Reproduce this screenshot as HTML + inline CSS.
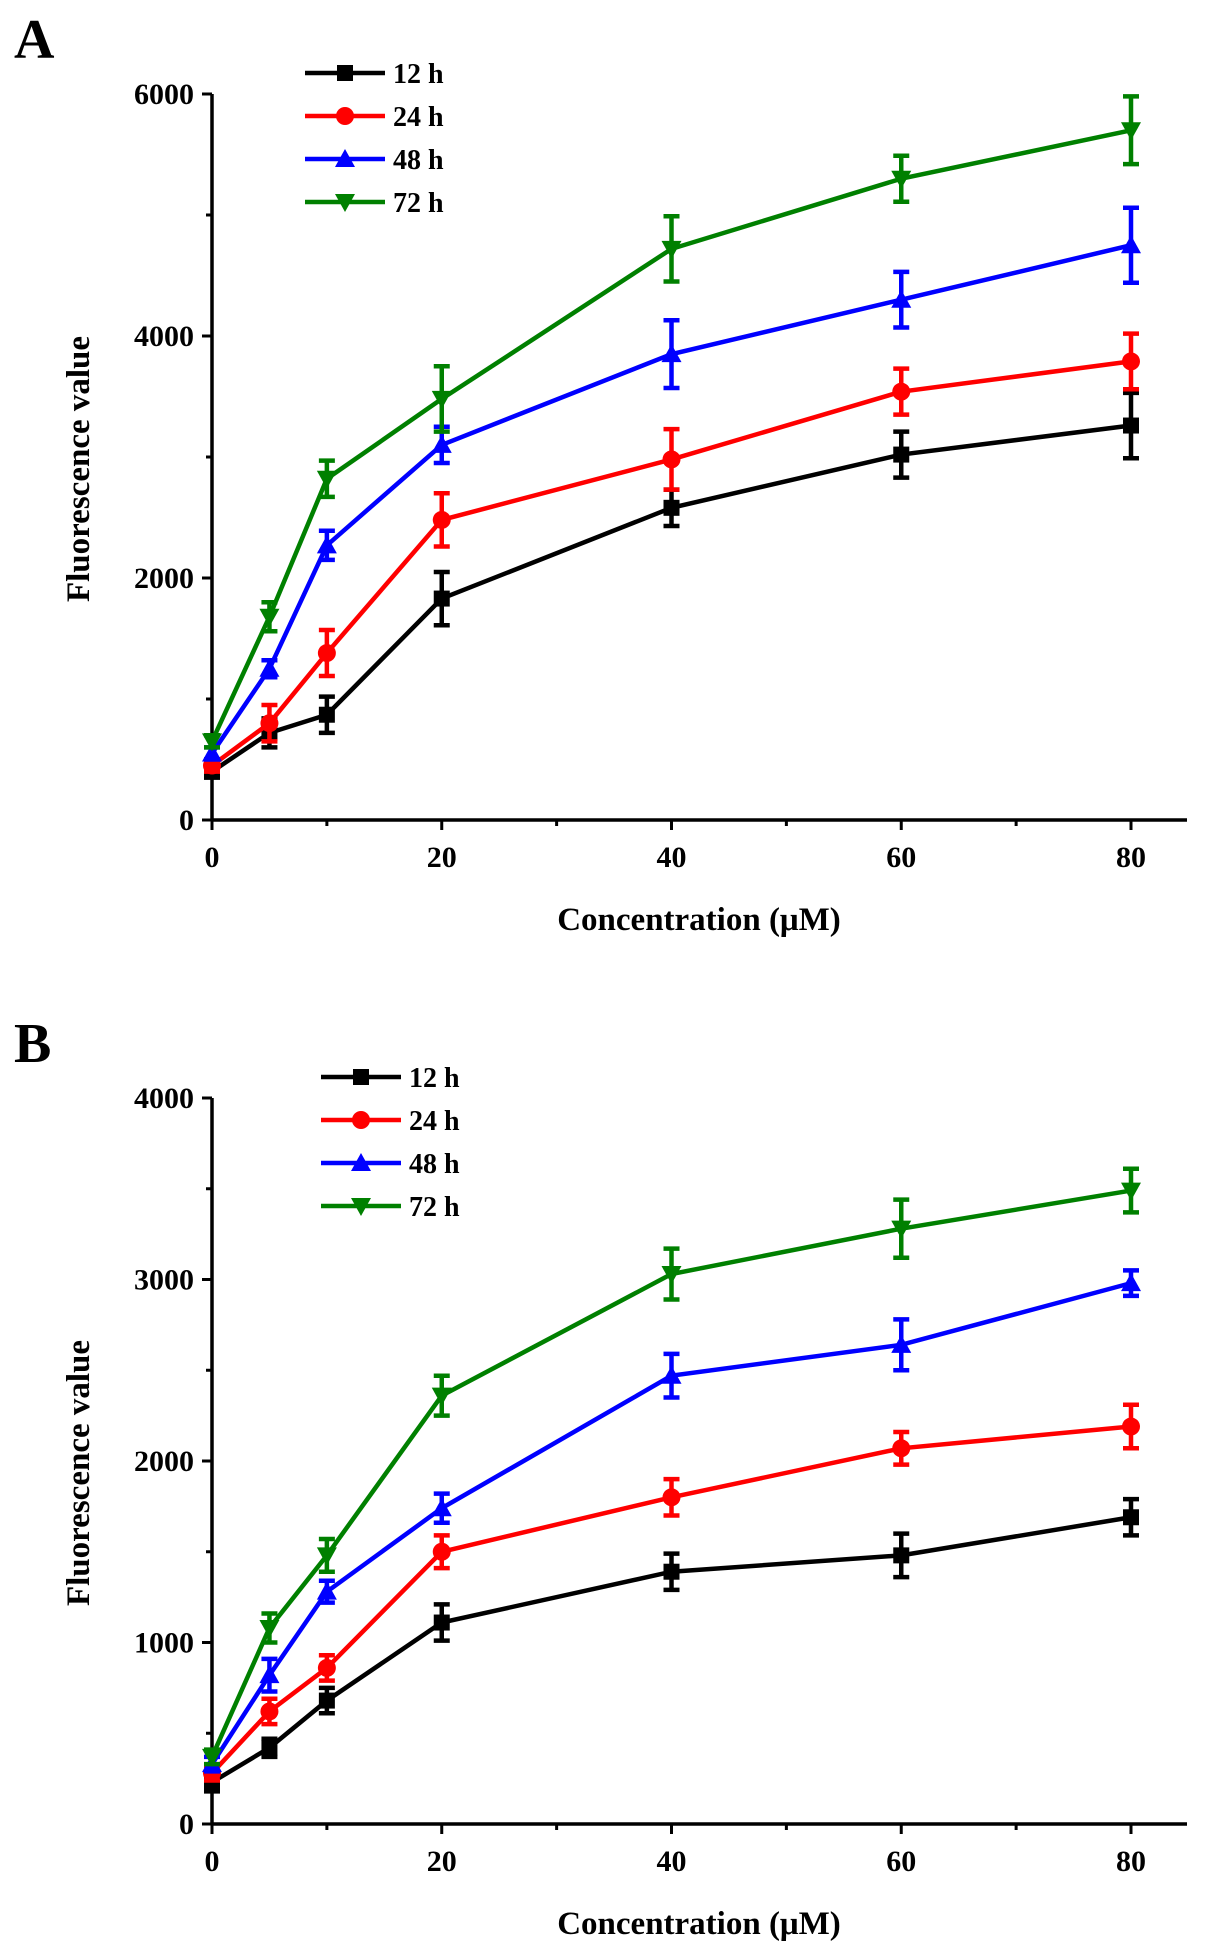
<!DOCTYPE html>
<html><head><meta charset="utf-8"><style>
html,body{margin:0;padding:0;background:#fff}
svg{display:block;font-family:"Liberation Serif",serif;font-weight:bold}
</style></head><body>
<svg id="fig" width="1205" height="1957" viewBox="0 0 1205 1957"></svg>
<script>
const concentrations=[0,5,10,20,40,60,80];
const seriesNames=["12 h","24 h","48 h","72 h"];
const seriesColors=["#000000","#ff0000","#0000ff","#008000"];
const aValues12=[400,720,870,1830,2580,3020,3260];
const aValues24=[450,800,1380,2480,2980,3540,3790];
const aValues48=[550,1250,2270,3100,3850,4300,4750];
const aValues72=[650,1680,2820,3480,4720,5300,5700];
const aErr12=[50,120,150,220,150,190,270];
const aErr24=[50,150,190,220,250,190,230];
const aErr48=[50,70,120,150,280,230,310];
const aErr72=[50,120,150,270,270,190,280];
const bValues12=[230,420,680,1110,1390,1480,1690];
const bValues24=[280,620,860,1500,1800,2070,2190];
const bValues48=[330,820,1280,1740,2470,2640,2980];
const bValues72=[370,1080,1480,2360,3030,3280,3490];
const bErr12=[50,50,70,100,100,120,100];
const bErr24=[40,70,70,90,100,90,120];
const bErr48=[40,90,60,80,120,140,70];
const bErr72=[40,80,90,110,140,160,120];
const xTicks=[0,20,40,60,80];
const aYTicks=[0,2000,4000,6000];
const bYTicks=[0,1000,2000,3000,4000];

const NS="http://www.w3.org/2000/svg";
const svg=document.getElementById('fig');
function mk(tag,attrs,parent,text){const e=document.createElementNS(NS,tag);for(const k in attrs)e.setAttribute(k,attrs[k]);if(text!==undefined)e.textContent=text;(parent||svg).appendChild(e);return e;}

function marker(g,i,cx,cy,col){
  let m;
  if(i===0) m=mk('rect',{x:cx-8,y:cy-8,width:16,height:16,fill:col},g);
  else if(i===1) m=mk('circle',{cx:cx,cy:cy,r:9,fill:col},g);
  else if(i===2) m=mk('polygon',{points:`${cx},${cy-10} ${cx-10},${cy+8} ${cx+10},${cy+8}`,fill:col},g);
  else m=mk('polygon',{points:`${cx},${cy+10} ${cx-10},${cy-8} ${cx+10},${cy-8}`,fill:col},g);
  return m;
}

function panel(o){
  const g=mk('g',{});
  
  
  const X=v=>o.x0+(v-0)*(o.x1-o.x0)/80;
  const Y=v=>o.y0-(v/o.ymax)*(o.y0-o.yTop);
  const lab=mk('text',{x:14,y:o.labelY,'font-size':56},g,o.label);
  
  const ax=mk('line',{x1:o.x0,y1:o.y0,x2:1187,y2:o.y0,stroke:'#000','stroke-width':3.5},g);
  
  const ay=mk('line',{x1:o.x0,y1:o.y0+1.5,x2:o.x0,y2:o.yTop,stroke:'#000','stroke-width':3.5},g);
  
  for(let v=0;v<=80;v+=10){
    const maj=v%20===0;
    mk('line',{x1:X(v),y1:o.y0,x2:X(v),y2:o.y0+(maj?10:6),stroke:'#000','stroke-width':3},g);
  }
  xTicks.forEach(v=>{const t=mk('text',{x:X(v),y:o.y0+47,'font-size':30,'text-anchor':'middle'},g,String(v));
    });
  for(let v=0;v<=o.ymax;v+=o.minor){
    const maj=o.yticks.includes(v);
    mk('line',{x1:o.x0,y1:Y(v),x2:o.x0-(maj?10:6),y2:Y(v),stroke:'#000','stroke-width':3},g);
  }
  o.yticks.forEach(v=>{const t=mk('text',{x:o.x0-18,y:Y(v)+10,'font-size':30,'text-anchor':'end'},g,String(v));
    });
  const xt=mk('text',{x:699,y:o.y0+110,'font-size':33,'text-anchor':'middle'},g,'Concentration (μM)');
  
  const cy=(o.y0+o.yTop)/2;
  const yt=mk('text',{x:0,y:0,'font-size':33,'text-anchor':'middle',transform:`translate(89,${cy+12}) rotate(-90)`},g,'Fluorescence value');
  
  o.vals.forEach((vals,i)=>{
    const col=seriesColors[i];
    const sg=mk('g',{},g);
    
    
    const pts=concentrations.map((c,j)=>X(c)+','+Y(vals[j])).join(' ');
    mk('polyline',{points:pts,fill:'none',stroke:col,'stroke-width':4.5},sg);
    concentrations.forEach((c,j)=>{
      const cx=X(c),e=o.errs[i][j];
      const eb=mk('path',{d:`M${cx},${Y(vals[j]+e)}V${Y(vals[j]-e)}M${cx-8},${Y(vals[j]+e)}H${cx+8}M${cx-8},${Y(vals[j]-e)}H${cx+8}`,stroke:col,'stroke-width':4.5,fill:'none'},sg);
      
      const m=marker(sg,i,cx,Y(vals[j]),col);
      
    });
  });
  seriesNames.forEach((n,i)=>{
    const lg=mk('g',{},g);
    
    
    const ly=o.legY+i*43;
    mk('line',{x1:o.legX,y1:ly,x2:o.legX+80,y2:ly,stroke:seriesColors[i],'stroke-width':4.5},lg);
    marker(lg,i,o.legX+40,ly,seriesColors[i]);
    mk('text',{x:o.legX+88,y:ly+10,'font-size':28},lg,n);
  });
}
panel({name:'panel-a',label:'A',labelY:58,x0:212,x1:1131,y0:820,yTop:94,ymax:6000,minor:1000,yticks:aYTicks,
  vals:[aValues12,aValues24,aValues48,aValues72],errs:[aErr12,aErr24,aErr48,aErr72],legX:305,legY:73});
panel({name:'panel-b',label:'B',labelY:1062,x0:212,x1:1131,y0:1824,yTop:1098,ymax:4000,minor:500,yticks:bYTicks,
  vals:[bValues12,bValues24,bValues48,bValues72],errs:[bErr12,bErr24,bErr48,bErr72],legX:321,legY:1077});
</script>
</body></html>
